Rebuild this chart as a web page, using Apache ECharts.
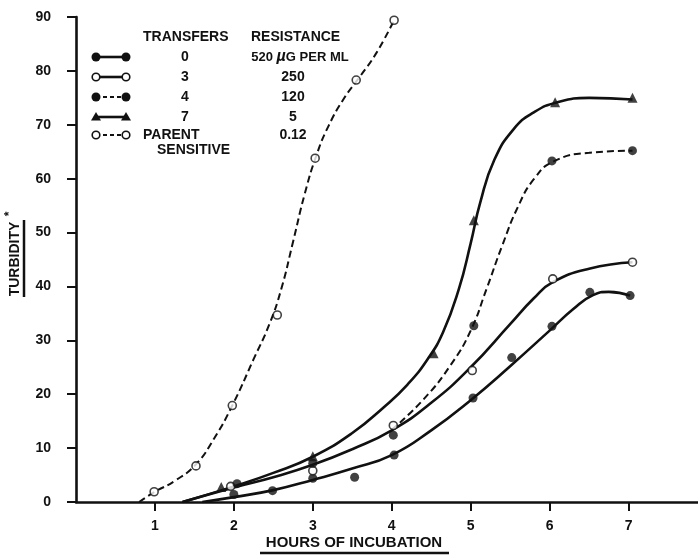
<!DOCTYPE html>
<html>
<head>
<meta charset="utf-8">
<script src="https://cdn.jsdelivr.net/npm/echarts@6/dist/echarts.min.js"></script>
<style>html,body{margin:0;padding:0;background:#fff}#c{width:698px;height:559px}</style>
</head>
<body>
<div id="c"></div>
<script>
// ---- tick labels ----
const xTicks = [1, 2, 3, 4, 5, 6, 7];
const yTicks = [0, 10, 20, 30, 40, 50, 60, 70, 80, 90];

// ---- measured points (hours, turbidity) ----
const t0Points = [[2.0,1.4],[2.49,2.1],[3.0,4.4],[3.53,4.6],[4.03,8.7],[5.03,19.3],[5.52,26.8],[6.03,32.6],[6.51,38.9],[7.02,38.3]];
const t3Points = [[1.96,2.9],[3.0,5.8],[4.02,14.2],[5.02,24.4],[6.04,41.4],[7.05,44.5]];
const t4Points = [[2.04,3.4],[3.0,7.2],[4.02,12.4],[5.04,32.7],[6.03,63.3],[7.05,65.2]];
const t7Points = [[1.84,2.8],[3.0,8.5],[4.53,27.6],[5.04,52.3],[6.07,74.2],[7.05,75.0]];
const parentPoints = [[0.99,1.9],[1.52,6.7],[1.98,17.9],[2.55,34.7],[3.03,63.8],[3.55,78.3],[4.03,89.4]];

// ---- fitted curves ----
const t0Curve = [[1.6,0],[2.0,0.9],[2.5,2.2],[3.0,4.1],[3.5,6.2],[4.0,8.7],[4.5,13.3],[5.0,18.9],[5.5,25.2],[6.0,31.8],[6.3,35.8],[6.55,38.4],[6.75,39.0],[7.02,38.3]];
const t3Curve = [[1.35,0],[2.0,2.7],[2.5,4.6],[3.0,6.9],[3.5,9.8],[4.0,13.3],[4.5,18.4],[5.0,25.0],[5.5,33.0],[5.8,37.8],[6.04,40.8],[6.5,43.3],[7.05,44.5]];
const t4Curve = [[4.0,13.4],[4.4,19.0],[4.75,25.5],[5.0,31.8],[5.2,39.5],[5.4,47.6],[5.6,54.8],[5.8,59.9],[6.05,63.2],[6.5,64.8],[7.05,65.2]];
const t7Curve = [[1.35,0],[2.0,2.9],[2.5,5.4],[3.0,8.4],[3.5,12.8],[3.9,17.6],[4.2,21.8],[4.45,26.4],[4.65,31.5],[4.85,39.5],[5.0,48.0],[5.12,55.5],[5.3,63.5],[5.55,69.3],[5.8,72.3],[6.1,74.2],[6.5,75.0],[7.05,74.7]];
const parentCurve = [[0.8,0],[1.0,1.9],[1.25,3.9],[1.52,7.0],[1.75,11.8],[1.98,17.9],[2.25,26.5],[2.45,33.0],[2.6,39.5],[2.75,48.3],[2.9,57.3],[3.05,64.5],[3.2,69.8],[3.4,75.0],[3.6,79.0],[3.8,83.2],[4.03,89.4]];

// ---- legend table ----
const legendTransfers = ['0', '3', '4', '7'];
const legendResistance = ['520 {mu|\u00b5}G PER ML', '250', '120', '5', '0.12'];

const FONT = 'Liberation Sans';
const BLACK = '#111';

function curve(name, data, dashed) {
  return {
    type: 'line', name, data, smooth: 0.5, showSymbol: false, silent: true,
    lineStyle: { color: BLACK, width: dashed ? 2 : 2.6, type: dashed ? [7, 4] : 'solid' },
    z: 2
  };
}
function marks(name, data, kind) {
  const s = { type: 'scatter', name, data, silent: true, z: 5 };
  if (kind === 'filled') { s.symbol = 'circle'; s.symbolSize = 9; s.itemStyle = { color: BLACK }; }
  else if (kind === 'open') { s.symbol = 'circle'; s.symbolSize = 8; s.itemStyle = { color: '#fff', borderColor: BLACK, borderWidth: 1.6 }; }
  else { s.symbol = 'triangle'; s.symbolSize = 10; s.itemStyle = { color: BLACK }; }
  return s;
}

// legend graphic elements
const rowsY = [57, 77, 97, 117, 135];
const rowKinds = [['filled', false], ['open', false], ['filled', true], ['tri', false], ['open', true]];
const lg = [];
rowsY.forEach((y, i) => {
  const [kind, dashed] = rowKinds[i];
  lg.push({ type: 'line', shape: { x1: 96, y1: y, x2: 126, y2: y },
    style: { stroke: BLACK, lineWidth: dashed ? 2 : 2.6, lineDash: dashed ? [4, 3] : null } });
  [96, 126].forEach(cx => {
    if (kind === 'tri') {
      lg.push({ type: 'polygon', shape: { points: [[cx, y - 5], [cx - 5, y + 3.5], [cx + 5, y + 3.5]] }, style: { fill: BLACK } });
    } else {
      lg.push({ type: 'circle', shape: { cx, cy: y, r: kind === 'filled' ? 4.5 : 3.8 },
        style: kind === 'filled' ? { fill: BLACK } : { fill: '#fff', stroke: BLACK, lineWidth: 1.6 } });
    }
  });
});
function txt(text, x, y, align, size, extra) {
  return Object.assign({ type: 'text', x, y, style: { text, x: 0, y: 0, align, verticalAlign: 'middle',
    font: 'bold ' + size + 'px "' + FONT + '"', fill: BLACK,
    rich: { mu: { font: 'italic bold 16px "' + FONT + '"', fill: BLACK } } } }, extra || {});
}
lg.push(txt('TRANSFERS', 143, 37, 'left', 14));
lg.push(txt('RESISTANCE', 251, 37, 'left', 14));
legendTransfers.forEach((t, i) => lg.push(txt(t, 185, rowsY[i], 'center', 14)));
legendResistance.forEach((t, i) => lg.push(txt(t, i === 0 ? 300 : 293, rowsY[i], 'center', i === 0 ? 13 : 14)));
lg.push(txt('PARENT', 143, 135, 'left', 14));
lg.push(txt('SENSITIVE', 157, 150, 'left', 14));
// axis titles
lg.push(txt('HOURS OF INCUBATION', 354, 543, 'center', 15));
lg.push({ type: 'line', shape: { x1: 260, y1: 553, x2: 449, y2: 553 }, style: { stroke: BLACK, lineWidth: 2.5 } });
lg.push(txt('TURBIDITY', 15, 259, 'center', 14, { rotation: Math.PI / 2 }));
lg.push(txt('*', 10, 214, 'center', 12, { rotation: Math.PI / 2 }));
lg.push({ type: 'line', shape: { x1: 24, y1: 220, x2: 24, y2: 297 }, style: { stroke: BLACK, lineWidth: 2.5 } });

const chart = echarts.init(document.getElementById('c'), null, { renderer: 'canvas' });
chart.setOption({
  animation: false,
  backgroundColor: '#fff',
  grid: { left: 76, right: 0, top: 17, bottom: 57, containLabel: false },
  xAxis: {
    type: 'value', min: 0, max: 7.88, interval: 1,
    splitLine: { show: false },
    axisLine: { onZero: false, lineStyle: { color: BLACK, width: 2.6 } },
    axisTick: { show: true, customValues: xTicks, length: 9, lineStyle: { color: BLACK, width: 2 } },
    axisLabel: { customValues: xTicks, margin: 17, color: BLACK, fontFamily: FONT, fontWeight: 'bold', fontSize: 14 }
  },
  yAxis: {
    type: 'value', min: 0, max: 90, interval: 10,
    splitLine: { show: false },
    axisLine: { show: true, lineStyle: { color: BLACK, width: 2.6 } },
    axisTick: { show: true, customValues: yTicks, length: 9, lineStyle: { color: BLACK, width: 2 } },
    axisLabel: { customValues: yTicks, margin: 25, color: BLACK, fontFamily: FONT, fontWeight: 'bold', fontSize: 14 }
  },
  series: [
    curve('0', t0Curve, false), marks('0', t0Points, 'filled'),
    curve('3', t3Curve, false), marks('3', t3Points, 'open'),
    curve('4', t4Curve, true), marks('4', t4Points, 'filled'),
    curve('7', t7Curve, false), marks('7', t7Points, 'tri'),
    curve('PARENT SENSITIVE', parentCurve, true), marks('PARENT SENSITIVE', parentPoints, 'open')
  ],
  graphic: { elements: lg }
});
</script>
</body>
</html>
